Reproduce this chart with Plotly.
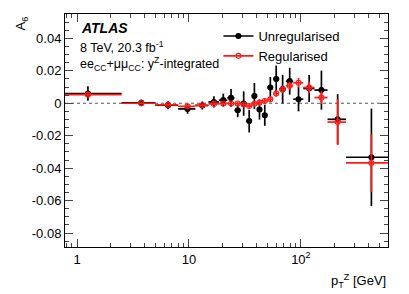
import numpy as np
import plotly.graph_objects as go

# pT^Z bin edges [GeV]
bin_edges = [0.0, 2.5, 5.0, 8.0, 11.4, 14.9, 18.5, 22.0, 25.5, 29.0, 32.6, 36.4,
             40.4, 44.9, 50.2, 56.4, 63.9, 73.4, 85.4, 105.0, 132.0, 173.0, 253.0, 600.0]

unreg_vals = [0.006, 0.0002, -0.0012, -0.0035, -0.0014, 0.0008, 0.0019, 0.0033, -0.0043,
              -0.0002, -0.011, 0.0045, -0.0039, -0.0074, 0.0097, 0.0149, 0.0087, 0.0136,
              0.0025, 0.0091, 0.0081, -0.0099, -0.0333]
unreg_err = [0.0045, 0.002, 0.0025, 0.003, 0.0025, 0.0035, 0.004, 0.0055, 0.0043,
             0.0075, 0.007, 0.008, 0.0062, 0.0065, 0.0065, 0.0083, 0.0088, 0.0083,
             0.0075, 0.0083, 0.012, 0.0155, 0.030]

reg_vals = [0.0053, 0.0, -0.001, -0.0019, -0.0012, -0.0004, -0.0002, -0.0002, -0.0002,
            -0.0008, -0.0017, -0.0003, 0.0004, 0.0014, 0.0025, 0.006, 0.0085, 0.0108,
            0.0126, 0.0097, 0.0035, -0.0116, -0.0368]
reg_err = [0.001, 0.0008, 0.0008, 0.001, 0.001, 0.001, 0.001, 0.001, 0.0012, 0.0012,
           0.0013, 0.0014, 0.0015, 0.0016, 0.0018, 0.002, 0.0023, 0.0026, 0.003, 0.0035,
           0.004, 0.014, 0.0178]

x_tickvals = [1, 10, 100]
x_ticktext = ["1", "10", "10<sup>2</sup>"]
y_tickvals = [0.04, 0.02, 0, -0.02, -0.04, -0.06, -0.08]
y_ticktext = ["0.04", "0.02", "0", "-0.02", "-0.04", "-0.06", "-0.08"]

edges = np.array(bin_edges)
centers = 0.5 * (edges[:-1] + edges[1:])
ex_minus = centers - edges[:-1]
ex_plus = edges[1:] - centers

# minor log ticks (2..9 in each decade)
x_minor = [m * 10.0 ** d for d in (-1, 0, 1, 2) for m in range(2, 10)
           if 0.78 <= m * 10.0 ** d <= 600]

FONT = "Liberation Sans, Arial, Helvetica, sans-serif"
RED = "#ff1a1a"

fig = go.Figure()

def add_series(vals, errs, color, symbol, size, name):
    fig.add_trace(go.Scatter(
        x=centers, y=vals, mode="markers", showlegend=False, name=name,
        marker=dict(color=color, size=size, symbol=symbol, line=dict(color=color, width=1.1)),
        error_x=dict(type="data", symmetric=False, array=ex_plus, arrayminus=ex_minus,
                     color=color, thickness=1.7, width=0),
        error_y=dict(type="data", array=errs, color=color, thickness=1.7, width=0),
    ))
    fig.add_trace(go.Scatter(
        x=[None], y=[None], mode="lines+markers", name=name,
        line=dict(color=color, width=1.6),
        marker=dict(color=color, size=size, symbol=symbol, line=dict(color=color, width=1.1)),
    ))

add_series(unreg_vals, unreg_err, "black", "circle", 5, "Unregularised")
add_series(reg_vals, reg_err, RED, "circle-open", 5, "Regularised")

fig.add_shape(type="line", xref="paper", yref="y", x0=0, x1=1, y0=0, y1=0,
              line=dict(color="#555555", width=1, dash="dot"), layer="below")

fig.update_xaxes(
    type="log", range=[np.log10(0.78), np.log10(600)],
    tickvals=x_tickvals, ticktext=x_ticktext,
    ticks="inside", ticklen=8, tickcolor="#444", showline=True, linecolor="black",
    linewidth=1, mirror="allticks", showgrid=False, zeroline=False,
    tickfont=dict(size=13, color="black", family=FONT),
    minor=dict(ticks="inside", ticklen=4, tickmode="array", tickvals=x_minor,
               tickcolor="#444", showgrid=False),
)
fig.update_yaxes(
    range=[-0.0886, 0.055], tickvals=y_tickvals, ticktext=y_ticktext,
    ticks="inside", ticklen=8, tickcolor="#444", showline=True, linecolor="black",
    linewidth=1, mirror="allticks", showgrid=False, zeroline=False,
    tickfont=dict(size=13, color="black", family=FONT),
    minor=dict(ticks="inside", ticklen=4, dtick=0.005, tickcolor="#444", showgrid=False),
)

fig.add_annotation(xref="paper", yref="paper", x=0.042, y=0.94, xanchor="left", yanchor="middle",
                   text="<b><i>ATLAS</i></b>", showarrow=False,
                   font=dict(size=14, family=FONT, color="black"))
fig.add_annotation(xref="paper", yref="paper", x=0.039, y=0.86, xanchor="left", yanchor="middle",
                   text="8 TeV, 20.3 fb<sup>-1</sup>", showarrow=False,
                   font=dict(size=12.5, family=FONT, color="black"))
fig.add_annotation(xref="paper", yref="paper", x=0.039, y=0.785, xanchor="left", yanchor="middle",
                   text="ee<sub>CC</sub>+μμ<sub>CC</sub>: y<sup>Z</sup>-integrated", showarrow=False,
                   font=dict(size=12.5, family=FONT, color="black"))
fig.add_annotation(xref="paper", yref="paper", x=-0.135, y=1.0, xanchor="center", yanchor="top",
                   text="A<sub>6</sub>", textangle=-90, showarrow=False,
                   font=dict(size=13, family=FONT, color="black"))
fig.add_annotation(xref="paper", yref="paper", x=1.0, y=-0.1, xanchor="right", yanchor="top",
                   text="p<sub>T</sub><sup>Z</sup> [GeV]", showarrow=False,
                   font=dict(size=13, family=FONT, color="black"))

fig.update_layout(
    width=409, height=294,
    margin=dict(l=65, r=21, t=14, b=47),
    paper_bgcolor="white", plot_bgcolor="white",
    font=dict(family=FONT, color="black"),
    legend=dict(x=0.475, y=0.97, xanchor="left", yanchor="top", bgcolor="rgba(0,0,0,0)",
                font=dict(size=13, family=FONT, color="black"), tracegroupgap=0,
                itemwidth=30),
)

fig.write_html("out.html", config={"displayModeBar": False},
               post_script="document.body.style.margin='0';document.body.style.padding='0';")
